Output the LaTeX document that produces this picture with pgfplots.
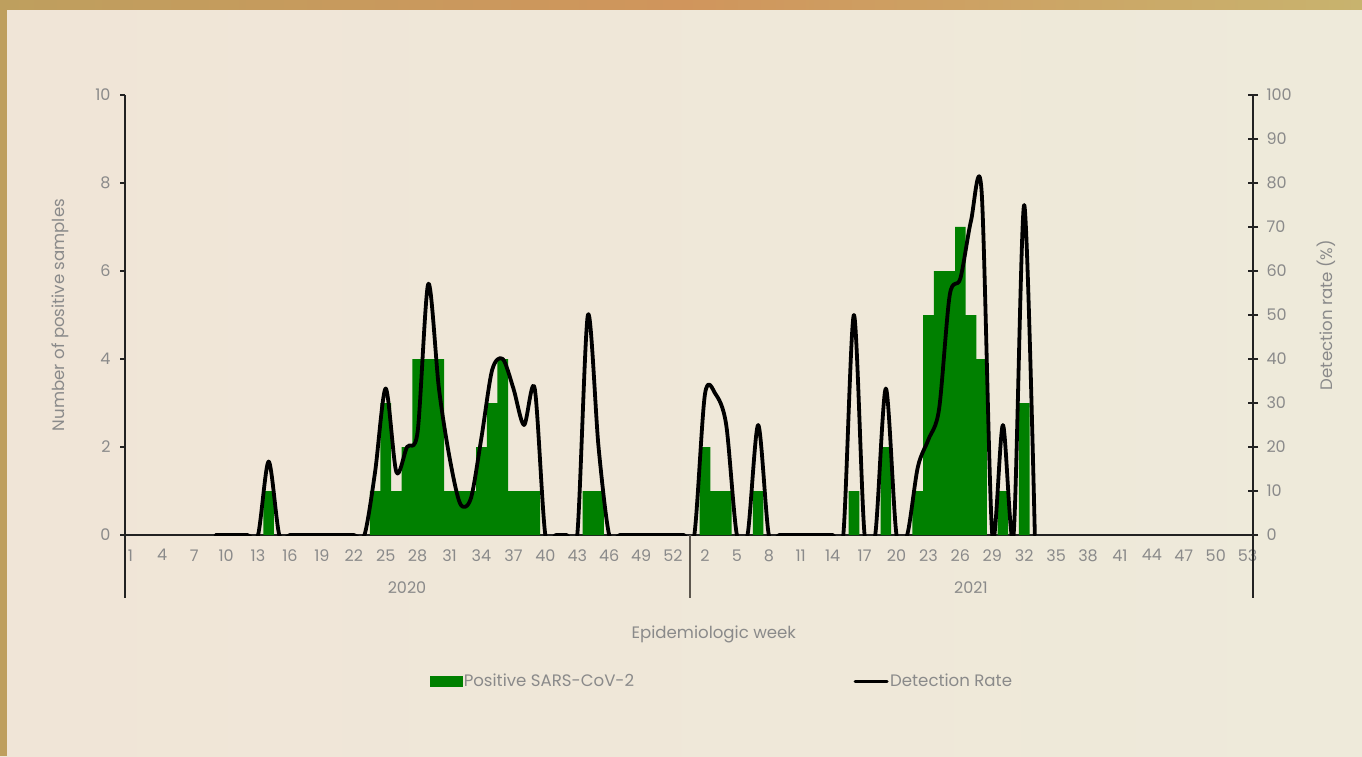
\documentclass[border=0pt]{standalone}
\usepackage{pgfplots}
\pgfplotsset{compat=1.18}
\usepackage{pgfplotstable}
\usepackage{fontspec}
\setmainfont{Poppins}
\definecolor{barg}{HTML}{008000}
\definecolor{txt}{HTML}{8A8A8A}
\definecolor{bgl}{HTML}{F0E5D7}
\definecolor{bgr}{HTML}{EEEADA}
\definecolor{gold1}{HTML}{BE9F5E}
\definecolor{gold2}{HTML}{D0955C}
\definecolor{gold3}{HTML}{C8B36E}
\definecolor{axl}{HTML}{222222}
\definecolor{sepc}{HTML}{5C564E}

% category = week (2020), 53 + week (2021)
\pgfplotstableread{
x y
14 1
24 1
25 3
26 1
27 2
28 4
29 4
30 4
31 1
32 1
33 1
34 2
35 3
36 4
37 1
38 1
39 1
44 1
45 1
55 2
56 1
57 1
60 1
69 1
72 2
75 1
76 5
77 6
78 6
79 7
80 5
81 4
83 1
85 3
}\bars

\pgfplotstableread{
x r
9 0
10 0
11 0
12 0
13 0
14 16.7
15 0
16 0
17 0
18 0
19 0
20 0
21 0
22 0
23 0
24 14.3
25 33.3
26 14.3
27 20
28 23.5
29 57.1
30 33.3
31 17.6
32 7.1
33 8.3
34 22.2
35 37.5
36 40
37 33.3
38 25
39 33.3
40 0
41 0
42 0
43 0
44 50
45 20
46 0
47 0
48 0
49 0
50 0
51 0
52 0
53 0
54 0
55 32
56 32
57 25
58 0
59 0
60 25
61 0
62 0
63 0
64 0
65 0
66 0
67 0
68 0
69 50
70 0
71 0
72 33.3
73 0
74 0
75 15.4
76 21.7
77 28.6
78 54.5
79 58.3
80 71.4
81 78
82 0
83 25
84 0
85 75
86 0
}\rate

\pgfplotsset{
  common/.style={
    at={(125pt,221pt)}, anchor=south west, scale only axis,
    width=1128pt, height=440pt,
    xmin=0.5, xmax=106.5,
    axis line style={axl, line width=1.1pt},
    every tick/.style={axl, line width=1.1pt},
    ticklabel style={txt, font=\fontsize{16}{19}\selectfont},
    /pgf/number format/assume math mode=true,
  }
}

\begin{document}
\begin{tikzpicture}[x=1pt,y=1pt]
\useasboundingbox (0,0) rectangle (1362,756);
\shade[left color=bgl, right color=bgr] (0,0) rectangle (1362,756);
\shade[left color=gold1, right color=gold3, middle color=gold2] (0,746) rectangle (1362,756);
\fill[gold1] (0,0) rectangle (7,746);

\begin{axis}[common,
  ymin=0, ymax=10,
  axis x line*=bottom, axis y line*=left,
  xtick={1,4,...,106},
  xticklabels={1,4,7,10,13,16,19,22,25,28,31,34,37,40,43,46,49,52,2,5,8,11,14,17,20,23,26,29,32,35,38,41,44,47,50,53},
  x tick style={draw=none},
  xticklabel style={yshift=-6pt},
  ytick={0,2,...,10},
  tick align=outside, major tick length=5pt,
  yticklabel style={xshift=-6pt},
  ylabel={Number of positive samples},
  every axis y label/.style={at={(axis description cs:-0.0576,0.5)}, anchor=center, rotate=90,
    txt, font=\fontsize{16.6}{19}\selectfont},
  xlabel={Epidemiologic week},
  every axis x label/.style={at={(axis description cs:0.522,-0.225)}, anchor=center,
    txt, font=\fontsize{16.6}{19}\selectfont},
]
\addplot[ybar, bar width=1, bar shift=0pt, fill=barg, draw=none] table[x=x, y=y]{\bars};
\end{axis}

\begin{axis}[common,
  ymin=0, ymax=100,
  axis x line=none, axis y line*=right,
  ytick={0,10,...,100},
  tick align=center, major tick length=10pt,
  yticklabel style={xshift=5pt},
  ylabel={Detection rate (\%)},
  every axis y label/.style={at={(axis description cs:1.0647,0.5)}, anchor=center, rotate=90,
    txt, font=\fontsize{16.6}{19}\selectfont},
  legend style={at={(axis description cs:0.529,-0.332)}, anchor=center, draw=none, fill=none,
    legend columns=2, text=txt, font=\fontsize{16.6}{19}\selectfont,
    nodes={inner sep=1.5pt},
    /tikz/every even column/.append style={column sep=218pt}},
]
\addlegendimage{legend image code/.code={\fill[barg] (0pt,-5pt) rectangle (32pt,5pt);}}
\addlegendentry{Positive SARS-CoV-2}
\addplot[black, line width=3.8pt, line join=round, line cap=round, smooth, tension=0.5,
  legend image code/.code={\draw[black, line width=3pt] (0pt,0pt) -- (32pt,0pt);}]
  table[x=x, y=r]{\rate};
\addlegendentry{Detection Rate}
\end{axis}

\draw[axl, line width=1.1pt] (125,221) -- (125,158);
\draw[sepc, line width=1.1pt] (690,221) -- (690,158);
\draw[axl, line width=1.1pt] (1253,221) -- (1253,158);
\node[txt, font=\fontsize{16}{19}\selectfont] at (407,168) {2020};
\node[txt, font=\fontsize{16}{19}\selectfont] at (971,168) {2021};
\end{tikzpicture}
\end{document}
